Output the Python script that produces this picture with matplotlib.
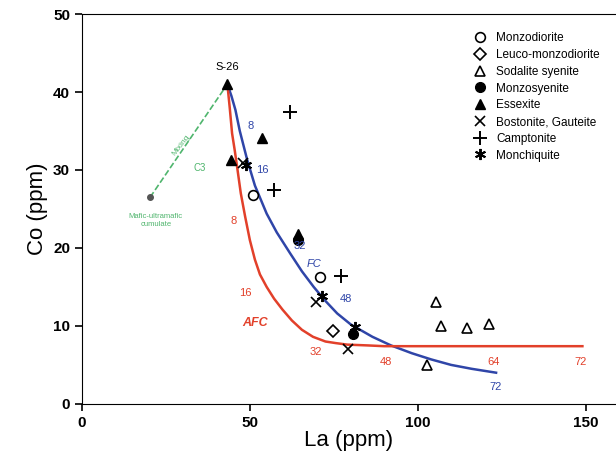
import matplotlib.pyplot as plt

plt.rcParams['font.family'] = ['Liberation Sans', 'DejaVu Sans']

# Datos (La, Co en ppm)
monzodiorite_x = [50.9, 70.8]
monzodiorite_y = [26.8, 16.3]
leuco_x = [74.6]
leuco_y = [9.3]
sodalite_x = [105.4, 107.0, 114.5, 121.3, 102.6]
sodalite_y = [13.1, 10.0, 9.7, 10.3, 5.0]
monzosyenite_x = [64.3, 80.7]
monzosyenite_y = [21.0, 9.0]
essexite_x = [43.3, 53.6, 44.5, 64.3]
essexite_y = [41.0, 34.1, 31.3, 21.8]
bostonite_x = [48.0, 69.6, 79.3]
bostonite_y = [30.9, 13.1, 7.1]
camptonite_x = [61.8, 57.3, 77.0]
camptonite_y = [37.5, 27.4, 16.4]
monchiquite_x = [48.9, 71.6, 81.3]
monchiquite_y = [30.6, 13.8, 9.8]

# curvas de modelo
fc_x = [43.3, 44.5, 45.7, 47.0, 49.2, 51.5, 55.0, 58.0, 62.0, 65.5, 69.0, 72.5,
        76.0, 80.0, 86.5, 92.0, 98.2, 104.0, 109.9, 116.0, 123.3]
fc_y = [41.0, 39.5, 37.7, 35.0, 31.3, 28.0, 24.4, 22.0, 19.3, 17.0, 15.0, 13.2,
        11.6, 10.2, 8.6, 7.5, 6.5, 5.7, 5.0, 4.5, 4.0]
afc_x = [43.3, 44.0, 44.7, 45.5, 46.2, 47.3, 48.6, 50.0, 51.5, 53.0, 55.0, 57.2,
         59.7, 62.5, 65.5, 68.8, 72.5, 75.5, 79.0, 85.0, 90.0, 149.0]
afc_y = [41.0, 38.0, 34.7, 32.5, 30.4, 27.0, 24.0, 21.0, 18.5, 16.6, 15.0, 13.5,
         12.1, 10.7, 9.5, 8.6, 8.0, 7.8, 7.6, 7.5, 7.4, 7.4]
fc_labels = ["8", "16", "32", "48", "72"]
fc_lab_x = [50.3, 53.8, 64.9, 78.5, 123.3]
fc_lab_y = [35.6, 30.0, 20.2, 13.4, 2.2]
afc_labels = ["8", "16", "32", "48", "64", "72"]
afc_lab_x = [45.3, 48.6, 69.6, 90.6, 122.5, 148.4]
afc_lab_y = [23.4, 14.2, 6.6, 5.4, 5.4, 5.4]

# mezcla
mix_x = [20.3, 43.3]
mix_y = [26.5, 41.0]

fig = plt.figure(figsize=(6.16, 4.68), dpi=100)
ax = fig.add_axes([0.133, 0.137, 0.867, 0.833])

red = "#e2402a"
blue = "#2f45a8"
green = "#4fb56d"

ax.plot(fc_x, fc_y, color=blue, linewidth=1.8)
ax.plot(afc_x, afc_y, color=red, linewidth=1.8)
ax.plot(mix_x, mix_y, color=green, linewidth=1.2, linestyle="--")
ax.plot(mix_x[0], mix_y[0], marker="o", color="#555555", markersize=4)

for t, x, y in zip(fc_labels, fc_lab_x, fc_lab_y):
    ax.text(x, y, t, color=blue, fontsize=8, ha="center", va="center")
for t, x, y in zip(afc_labels, afc_lab_x, afc_lab_y):
    ax.text(x, y, t, color=red, fontsize=8, ha="center", va="center")
ax.text(69, 18.0, "FC", color=blue, fontsize=8, style="italic", ha="center", va="center")
ax.text(51.5, 10.4, "AFC", color=red, fontsize=9, style="italic", fontweight="bold",
        ha="center", va="center")
ax.text(43.3, 43.2, "S-26", fontsize=8, ha="center", va="center")
ax.text(22.0, 23.5, "Mafic-ultramafic\ncumulate", color=green, fontsize=5.5,
        ha="center", va="center")
ax.text(29.5, 33.2, "Mixing", color=green, fontsize=6, rotation=52,
        ha="center", va="center")
ax.text(35.0, 30.2, "C3", color=green, fontsize=7, ha="center", va="center")

ms = 7
ax.plot(monzodiorite_x, monzodiorite_y, "o", mfc="white", mec="black", ms=ms, mew=1.2,
        linestyle="none", label="Monzodiorite")
ax.plot(leuco_x, leuco_y, "D", mfc="white", mec="black", ms=ms - 1, mew=1.2,
        linestyle="none", label="Leuco-monzodiorite")
ax.plot(sodalite_x, sodalite_y, "^", mfc="white", mec="black", ms=ms, mew=1.2,
        linestyle="none", label="Sodalite syenite")
ax.plot(monzosyenite_x, monzosyenite_y, "o", color="black", ms=ms,
        linestyle="none", label="Monzosyenite")
ax.plot(essexite_x, essexite_y, "^", color="black", ms=ms,
        linestyle="none", label="Essexite")
ax.plot(bostonite_x, bostonite_y, "x", color="black", ms=ms, mew=1.2,
        linestyle="none", label="Bostonite, Gauteite")
ax.plot(camptonite_x, camptonite_y, "+", color="black", ms=ms + 3, mew=1.4,
        linestyle="none", label="Camptonite")
ax.plot(monchiquite_x, monchiquite_y, marker=(6, 2, 0), color="black", ms=ms + 1,
        mew=1.4, linestyle="none", label="Monchiquite")

ax.legend(loc="upper right", bbox_to_anchor=(0.99, 0.98), frameon=False, fontsize=8.5,
          handletextpad=0.8, labelspacing=0.4, handlelength=1.2)

ax.set_xlim(0, 159)
ax.set_ylim(0, 50)
ax.set_xticks([0, 50, 100, 150])
ax.set_yticks([0, 10, 20, 30, 40, 50])
ax.spines["right"].set_visible(False)
ax.tick_params(direction="out", length=5, width=1.2, labelsize=11)
for lab in ax.get_xticklabels() + ax.get_yticklabels():
    lab.set_fontweight("bold")
ax.set_xlabel("La (ppm)", fontsize=16, labelpad=0)
ax.set_ylabel("Co (ppm)", fontsize=16, labelpad=4)

fig.savefig("out.png", dpi=100)
